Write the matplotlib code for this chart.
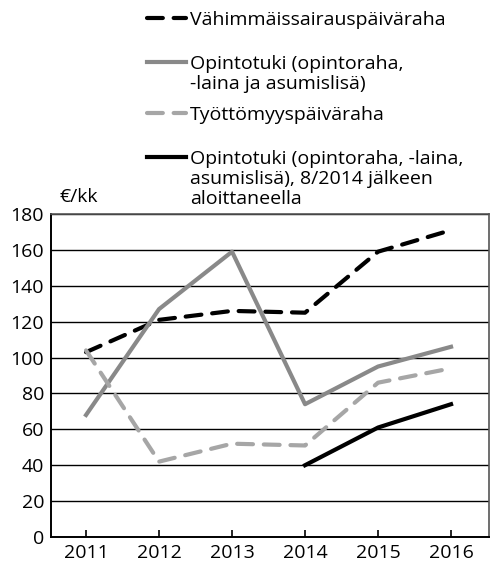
import matplotlib
matplotlib.use("Agg")
import matplotlib.pyplot as plt
from matplotlib.lines import Line2D

plt.rcParams['font.family'] = ['Open Sans', 'DejaVu Sans']

years = [2011, 2012, 2013, 2014, 2015, 2016]
sairaus = [103, 121, 126, 125, 159, 171]
opintotuki = [68, 127, 159, 74, 95, 106]
tyottomyys = [104, 42, 52, 51, 86, 94]
years_new = [2014, 2015, 2016]
opintotuki_new = [40, 61, 74]

labels = [
    "Vähimmäissairauspäiväraha",
    "Opintotuki (opintoraha,\n-laina ja asumislisä)",
    "Työttömyyspäiväraha",
    "Opintotuki (opintoraha, -laina,\nasumislisä), 8/2014 jälkeen\naloittaneella",
]
yticks = list(range(0, 181, 20))

W, H = 496, 566
fig = plt.figure(figsize=(W / 100, H / 100), dpi=100)
ax = fig.add_axes([51 / W, 1 - 537 / H, (489 - 51) / W, (537 - 214) / H])

lw = 3.0
styles = [
    dict(color='black', ls=(0, (3.8, 2.6)), lw=lw, dash_capstyle='round'),
    dict(color='#898989', ls='-', lw=lw),
    dict(color='#a6a6a6', ls=(0, (3.8, 2.6)), lw=lw, dash_capstyle='round'),
    dict(color='black', ls='-', lw=lw),
]
series = [(years, sairaus), (years, opintotuki), (years, tyottomyys), (years_new, opintotuki_new)]
for (x, y), st in zip(series, styles):
    ax.plot(x, y, zorder=3, **st)

ax.set_xlim(2010.52, 2016.52)
ax.set_ylim(0, 180)
ax.set_yticks(yticks)
ax.set_xticks(years)
ax.yaxis.grid(True, color='black', lw=1.0)
ax.set_axisbelow(True)
ax.tick_params(axis='y', length=0, pad=5, labelsize=14)
ax.tick_params(axis='x', direction='in', length=5, width=1.2, pad=5, labelsize=14)
for s in ['left', 'bottom']:
    ax.spines[s].set_linewidth(1.4)
    ax.spines[s].set_color('black')
for s in ['top', 'right']:
    ax.spines[s].set_linewidth(1.2)
    ax.spines[s].set_color('#555555')

fig.text(60 / W, 1 - 197 / H, "€/kk", fontsize=14, va='center', ha='left')

# legend
first_line_y = [18, 62, 113, 157]
for st, lab, yc in zip(styles, labels, first_line_y):
    yy = 1 - yc / H
    fig.add_artist(Line2D([147 / W, 186 / W], [yy, yy], transform=fig.transFigure, **st))
    fig.text(190 / W, 1 - (yc - 7) / H, lab, fontsize=14, va='top', ha='left',
             linespacing=1.13)

fig.savefig("out.png", dpi=100)
